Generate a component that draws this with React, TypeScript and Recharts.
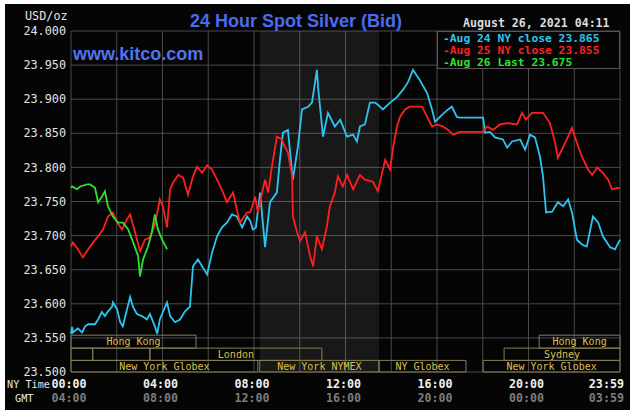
import React from 'react';
import {
  ComposedChart,
  Line,
  XAxis,
  YAxis,
  CartesianGrid,
  ReferenceArea,
  Legend,
} from 'recharts';

// time = minutes after midnight (NY time), value = USD/oz
const aug24Close: [number, number][] = [
  [0, 23.556], [3, 23.566], [5, 23.558], [18, 23.564], [29, 23.558], [37, 23.567],
  [45, 23.57], [63, 23.57], [71, 23.577], [81, 23.588], [89, 23.582], [97, 23.589],
  [108, 23.596], [110, 23.602], [121, 23.592], [129, 23.573], [136, 23.567], [147, 23.592],
  [155, 23.61], [163, 23.595], [173, 23.585], [186, 23.582], [199, 23.577], [207, 23.585],
  [220, 23.567], [226, 23.556], [233, 23.577], [247, 23.596], [252, 23.602], [260, 23.582],
  [273, 23.573], [286, 23.577], [299, 23.589], [312, 23.596], [320, 23.655], [333, 23.665],
  [346, 23.653], [357, 23.643], [370, 23.675], [383, 23.699], [396, 23.712], [409, 23.719],
  [422, 23.731], [435, 23.728], [449, 23.712], [462, 23.728], [470, 23.722], [477, 23.709],
  [485, 23.712], [496, 23.763], [509, 23.683], [522, 23.749], [540, 23.763], [548, 23.811],
  [556, 23.851], [569, 23.855], [580, 23.792], [582, 23.782], [595, 23.83], [606, 23.885],
  [622, 23.889], [632, 23.895], [645, 23.943], [648, 23.918], [661, 23.845], [674, 23.88],
  [692, 23.86], [706, 23.87], [724, 23.845], [740, 23.848], [750, 23.838], [758, 23.86],
  [771, 23.863], [784, 23.895], [797, 23.895], [805, 23.892], [818, 23.885], [837, 23.895],
  [855, 23.903], [871, 23.914], [884, 23.925], [897, 23.943], [915, 23.928], [934, 23.909],
  [947, 23.885], [955, 23.867], [973, 23.877], [989, 23.885], [999, 23.889], [1012, 23.874],
  [1020, 23.873], [1081, 23.873], [1086, 23.851], [1099, 23.852], [1112, 23.844], [1133, 23.841],
  [1144, 23.829], [1157, 23.838], [1178, 23.841], [1191, 23.826], [1204, 23.848], [1217, 23.844],
  [1230, 23.816], [1238, 23.787], [1246, 23.734], [1262, 23.735], [1277, 23.749], [1291, 23.743],
  [1304, 23.753], [1314, 23.734], [1327, 23.694], [1340, 23.687], [1353, 23.684], [1369, 23.728],
  [1383, 23.719], [1395, 23.699], [1414, 23.683], [1427, 23.68], [1440, 23.694],
];

const aug25Close: [number, number][] = [
  [0, 23.684], [5, 23.69], [18, 23.68], [31, 23.668], [45, 23.68], [58, 23.69],
  [71, 23.699], [84, 23.709], [97, 23.728], [110, 23.734], [121, 23.719], [134, 23.709],
  [147, 23.724], [155, 23.731], [168, 23.705], [181, 23.677], [194, 23.694], [207, 23.697],
  [220, 23.716], [233, 23.753], [241, 23.743], [252, 23.712], [260, 23.768], [268, 23.778],
  [281, 23.789], [294, 23.785], [307, 23.76], [320, 23.787], [331, 23.801], [344, 23.792],
  [357, 23.803], [370, 23.797], [383, 23.782], [399, 23.763], [409, 23.749], [425, 23.763],
  [443, 23.719], [462, 23.734], [470, 23.734], [483, 23.757], [490, 23.734], [509, 23.782],
  [517, 23.763], [527, 23.801], [540, 23.845], [553, 23.841], [561, 23.83], [569, 23.822],
  [580, 23.787], [582, 23.728], [593, 23.705], [601, 23.692], [614, 23.705], [627, 23.67],
  [635, 23.655], [645, 23.699], [658, 23.68], [671, 23.713], [679, 23.743], [692, 23.763],
  [700, 23.787], [713, 23.772], [724, 23.789], [740, 23.768], [758, 23.789], [771, 23.782],
  [792, 23.779], [805, 23.765], [816, 23.792], [824, 23.811], [837, 23.797], [845, 23.83],
  [855, 23.86], [863, 23.874], [876, 23.885], [889, 23.889], [908, 23.889], [921, 23.889],
  [934, 23.874], [947, 23.86], [960, 23.863], [976, 23.86], [989, 23.855], [1002, 23.848],
  [1020, 23.852], [1081, 23.852], [1091, 23.86], [1107, 23.855], [1125, 23.863], [1144, 23.865],
  [1170, 23.863], [1183, 23.88], [1193, 23.87], [1209, 23.88], [1238, 23.88], [1256, 23.865],
  [1270, 23.836], [1277, 23.814], [1296, 23.836], [1314, 23.858], [1327, 23.836], [1340, 23.816],
  [1356, 23.797], [1367, 23.789], [1380, 23.8], [1395, 23.792], [1409, 23.782], [1419, 23.768],
  [1435, 23.77], [1440, 23.77],
];

const aug26Last: [number, number][] = [
  [0, 23.77], [3, 23.772], [16, 23.768], [24, 23.772], [42, 23.775], [50, 23.775],
  [63, 23.77], [71, 23.749], [81, 23.757], [89, 23.765], [97, 23.743], [110, 23.728],
  [123, 23.719], [136, 23.719], [150, 23.709], [163, 23.69], [176, 23.67], [181, 23.64],
  [189, 23.665], [202, 23.684], [212, 23.705], [220, 23.731], [228, 23.709], [239, 23.694],
  [252, 23.68],
];

const seriesNames = ['Aug 24 NY close 23.865', 'Aug 25 NY close 23.855', 'Aug 26 Last 23.675'];
const seriesColors = ['#2ec4f2', '#ff1f1f', '#2ee02e'];

const priceTicks = [23.5, 23.55, 23.6, 23.65, 23.7, 23.75, 23.8, 23.85, 23.9, 23.95, 24.0];
const timeTicks = [0, 120, 240, 360, 480, 600, 720, 840, 960, 1080, 1200, 1320, 1440];
const nyTimeLabels = ['00:00', '04:00', '08:00', '12:00', '16:00', '20:00', '23:59'];
const gmtLabels = ['04:00', '08:00', '12:00', '16:00', '20:00', '00:00', '03:59'];

// trading sessions strip at the foot of the plot, row 0 is the lowest
const sessions = [
  { name: 'Hong Kong', start: 0, end: 328, row: 2 },
  { name: 'Hong Kong', start: 1228, end: 1440, row: 2 },
  { name: '', start: 0, end: 57, row: 1 },
  { name: '', start: 57, end: 207, row: 1 },
  { name: 'London', start: 207, end: 658, row: 1 },
  { name: 'Sydney', start: 1136, end: 1440, row: 1 },
  { name: 'New York Globex', start: 0, end: 490, row: 0 },
  { name: 'New York NYMEX', start: 495, end: 808, row: 0 },
  { name: 'NY Globex', start: 808, end: 1036, row: 0 },
  { name: 'New York Globex', start: 1081, end: 1440, row: 0 },
];
// price-axis edges of the three session rows
const sessionRowEdges = [23.5, 23.517, 23.535, 23.554];
const nymexHours = [495, 808];

const MONO = '"DejaVu Sans Mono", "Liberation Mono", monospace';
const SANS = '"Liberation Sans", Arial, sans-serif';

const toPoints = (arr: [number, number][]) => arr.map(([t, v]) => ({ t, v }));

function TimeTick(props: any) {
  const { x, y, index } = props;
  if (index % 2 !== 0) return <g />;
  const i = index / 2;
  const last = i === nyTimeLabels.length - 1;
  const tx = last ? x + 4 : x - 2;
  const anchor = last ? 'end' : 'middle';
  return (
    <g>
      <text x={tx} y={y + 16} textAnchor={anchor} fill="#f0f0f0" fontSize={11.7} fontWeight="bold" fontFamily={MONO}>
        {nyTimeLabels[i]}
      </text>
      <text x={tx} y={y + 30} textAnchor={anchor} fill="#7c7c7c" fontSize={11.7} fontWeight="bold" fontFamily={MONO}>
        {gmtLabels[i]}
      </text>
    </g>
  );
}

function LegendBox({ payload }: any) {
  return (
    <div
      style={{
        width: 183,
        height: 38,
        boxSizing: 'border-box',
        border: '1px solid #555',
        background: '#050505',
        padding: '1px 0 0 5px',
        fontFamily: MONO,
        fontSize: 11.3,
        fontWeight: 'bold',
        lineHeight: '12px',
        whiteSpace: 'pre',
      }}
    >
      {(payload || []).map((p: any) => (
        <div key={p.value} style={{ color: p.color, height: 12 }}>{`-${p.value}`}</div>
      ))}
    </div>
  );
}

export default function App() {
  const lines = [aug24Close, aug25Close, aug26Last];
  return (
    <div style={{ position: 'absolute', left: 0, top: 0, width: 634, height: 417, background: '#fff' }}>
      <div style={{ position: 'absolute', left: 5, top: 4, width: 625, height: 406, background: '#050505' }} />
      <div style={{ position: 'absolute', left: 0, top: 0 }}>
        <ComposedChart width={634} height={417} margin={{ top: 31, right: 14, bottom: 0, left: 0 }}>
          <CartesianGrid stroke="#4a4a4a" strokeWidth={1} />
          <XAxis
            dataKey="t"
            type="number"
            domain={[0, 1440]}
            ticks={timeTicks}
            interval={0}
            height={45}
            axisLine={false}
            tickLine={false}
            tickSize={0}
            tickMargin={0}
            tick={TimeTick}
          />
          <YAxis
            type="number"
            domain={[23.5, 24.0]}
            ticks={priceTicks}
            interval={0}
            width={71}
            axisLine={false}
            tickLine={false}
            tickSize={0}
            tickMargin={5}
            allowDataOverflow
            tickFormatter={(v: number) => v.toFixed(3)}
            tick={{ fill: '#e2e2e2', fontSize: 11.8, fontFamily: MONO }}
          />
          <ReferenceArea x1={nymexHours[0]} x2={nymexHours[1]} fill="#ffffff" fillOpacity={0.08} stroke="none" />
          {sessions.map((s, i) => (
            <ReferenceArea
              key={i}
              x1={s.start}
              x2={s.end}
              y1={sessionRowEdges[s.row]}
              y2={sessionRowEdges[s.row + 1]}
              ifOverflow="visible"
              fill="#000000"
              fillOpacity={0}
              stroke="#857f55"
              strokeWidth={1}
              label={{ value: s.name, position: 'center', fill: '#dcc04c', fontSize: 10, fontFamily: MONO }}
            />
          ))}
          {lines.map((arr, i) => (
            <Line
              key={seriesNames[i]}
              data={toPoints(arr)}
              dataKey="v"
              name={seriesNames[i]}
              type="linear"
              stroke={seriesColors[i]}
              strokeWidth={1.8}
              dot={false}
              isAnimationActive={false}
            />
          ))}
          <Legend
            layout="vertical"
            align="center"
            verticalAlign="middle"
            wrapperStyle={{ left: 437, top: 31, width: 183 }}
            content={LegendBox}
          />
        </ComposedChart>
      </div>
      <svg width={634} height={417} style={{ position: 'absolute', left: 0, top: 0, pointerEvents: 'none' }}>
        <text x={296} y={27} textAnchor="middle" fill="#4a6cf0" fontSize={18} fontWeight="bold" fontFamily={SANS}>
          24 Hour Spot Silver (Bid)
        </text>
        <text x={73} y={60} fill="#5274ee" fontSize={18} fontWeight="bold" fontFamily={SANS}>
          www.kitco.com
        </text>
        <text x={25} y={20} fill="#e2e2e2" fontSize={11.8} fontFamily={MONO}>USD/oz</text>
        <text x={463} y={27} fill="#dcdcdc" fontSize={11.6} fontWeight="bold" fontFamily={MONO}>
          August 26, 2021 04:11
        </text>
        <text x={7} y={388} fill="#e6e6e6" fontSize={10.2} fontFamily={MONO}>NY Time</text>
        <text x={15} y={402} fill="#e6e6e6" fontSize={10.2} fontFamily={MONO}>GMT</text>
      </svg>
    </div>
  );
}
